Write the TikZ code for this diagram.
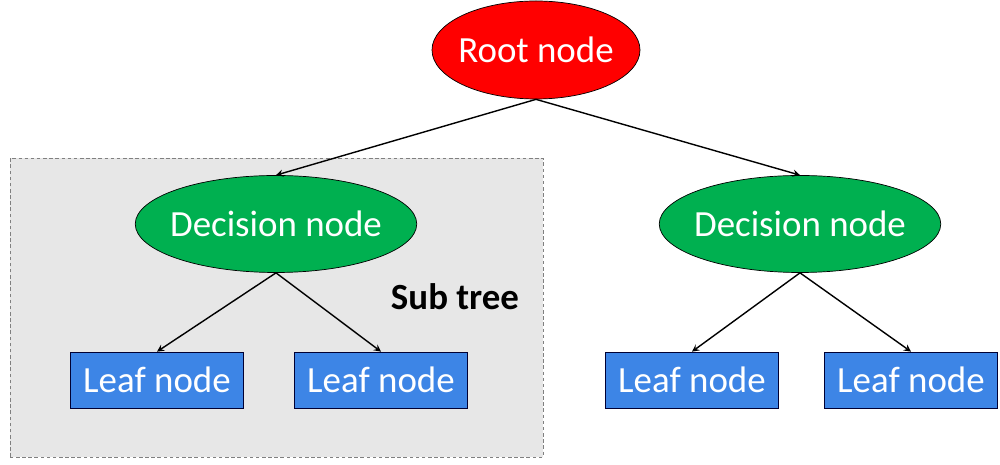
\documentclass[tikz,border=0pt]{standalone}
\usepackage{fontspec}
\setmainfont{Carlito}
\usetikzlibrary{shapes.geometric}
\definecolor{rootred}{RGB}{255,0,0}
\definecolor{decgreen}{RGB}{0,176,80}
\definecolor{leafblue}{RGB}{61,133,230}
\definecolor{subgray}{RGB}{231,231,231}
\newcommand{\ctext}[1]{\makebox[0pt]{#1}}
\begin{document}
\begin{tikzpicture}[
    every node/.style={font=\fontsize{21}{25}\selectfont},
    rootnode/.style={ellipse,draw=black,fill=rootred,text=white,inner sep=0pt,minimum width=4.16cm,minimum height=1.96cm},
    decnode/.style={ellipse,draw=black,fill=decgreen,text=white,inner sep=0pt,minimum width=5.63cm,minimum height=1.94cm},
    leafnode/.style={rectangle,draw=black!80!blue,fill=leafblue,text=white,inner sep=0pt,minimum width=3.45cm,minimum height=1.12cm},
    edge/.style={->,>=stealth,line width=0.8pt}
  ]
    \useasboundingbox (0,0) rectangle (20,9.3);
    % sub tree box
    \draw[gray,fill=subgray,dash pattern=on 2pt off 1.5pt] (0.2,0.16) rectangle (10.86,6.14);
    \node[font=\fontsize{21}{25}\selectfont\bfseries] (subtree) at (9.1,3.36) {Sub tree};

    \node[rootnode] (root) at (10.72,8.3) {\ctext{Root node}};
    \node[decnode] (decl) at (5.52,4.82) {\ctext{Decision node}};
    \node[decnode] (decr) at (16.0,4.82) {\ctext{Decision node}};
    \node[leafnode] (leafa) at (3.14,1.7) {Leaf node};
    \node[leafnode] (leafb) at (7.62,1.7) {Leaf node};
    \node[leafnode] (leafc) at (13.84,1.7) {Leaf node};
    \node[leafnode] (leafd) at (18.22,1.7) {Leaf node};

    \draw[edge] (root.south) -- (decl.north);
    \draw[edge] (root.south) -- (decr.north);
    \draw[edge] (decl.south) -- (leafa.north);
    \draw[edge] (decl.south) -- (leafb.north);
    \draw[edge] (decr.south) -- (leafc.north);
    \draw[edge] (decr.south) -- (leafd.north);
  \end{tikzpicture}
\end{document}
